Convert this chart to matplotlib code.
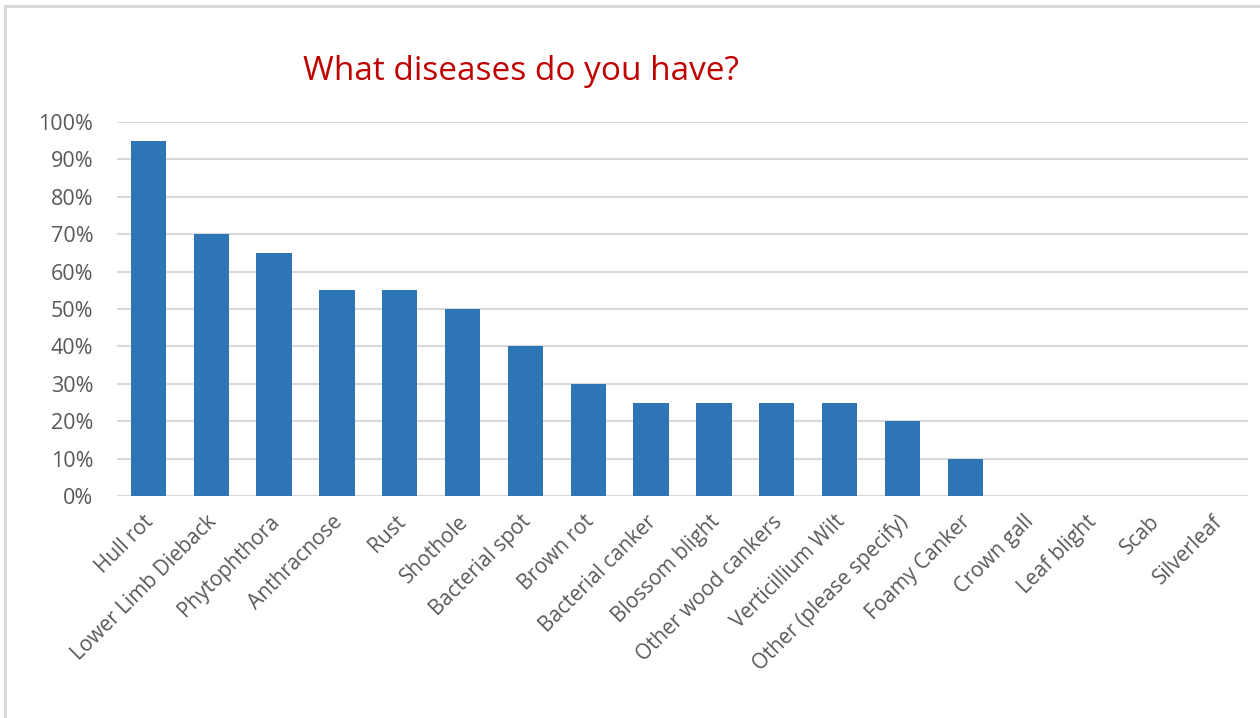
import matplotlib
matplotlib.use("Agg")
import matplotlib.pyplot as plt
from matplotlib.patches import Rectangle
from matplotlib.ticker import PercentFormatter
import matplotlib.transforms as mtrans

categories = ["Hull rot", "Lower Limb Dieback", "Phytophthora", "Anthracnose", "Rust",
              "Shothole", "Bacterial spot", "Brown rot", "Bacterial canker", "Blossom blight",
              "Other wood cankers", "Verticillium Wilt", "Other (please specify)", "Foamy Canker",
              "Crown gall", "Leaf blight", "Scab", "Silverleaf"]
values = [95, 70, 65, 55, 55, 50, 40, 30, 25, 25, 25, 25, 20, 10, 0, 0, 0, 0]
yticks = [0, 10, 20, 30, 40, 50, 60, 70, 80, 90, 100]
title = "What diseases do you have?"

plt.rcParams['font.family'] = ['Open Sans', 'DejaVu Sans']

W, H = 1260, 718
fig = plt.figure(figsize=(W/100, H/100), dpi=100)
fig.patch.set_facecolor('white')
fig.patches.append(Rectangle((5/W, -0.05), 1.2, (H-6)/H + 0.05, transform=fig.transFigure,
                             fill=False, edgecolor='#D9D9D9', linewidth=2.2, zorder=0))

ax = fig.add_axes([117/W, (H-496)/H, (1248-117)/W, (496-122)/H])
x = range(len(categories))
ax.bar(x, values, width=0.56, color='#2E75B6', zorder=3)
ax.set_xlim(-0.5, len(categories)-0.5)
ax.set_ylim(0, 100)
ax.set_yticks(yticks)
ax.yaxis.set_major_formatter(PercentFormatter(decimals=0))
ax.grid(axis='y', color='#D9D9D9', linewidth=1.5, zorder=0)
for s in ax.spines.values():
    s.set_visible(False)
ax.tick_params(axis='both', length=0, colors='#595959')
ax.tick_params(axis='y', pad=17, labelsize=15.5)
ax.tick_params(axis='x', pad=11, labelsize=15)
ax.set_xticks(list(x))
ax.set_xticklabels(categories, rotation=45, ha='right', va='top', rotation_mode='anchor')
off = mtrans.ScaledTranslation(-5/100, 0, fig.dpi_scale_trans)
for lbl in ax.get_xticklabels():
    lbl.set_color('#595959')
    lbl.set_transform(lbl.get_transform() + off)

fig.text(521/W, 1 - 72/H, title, color='#C00000', fontsize=24, ha='center', va='center')

fig.savefig('out.png', dpi=100, facecolor='white')
